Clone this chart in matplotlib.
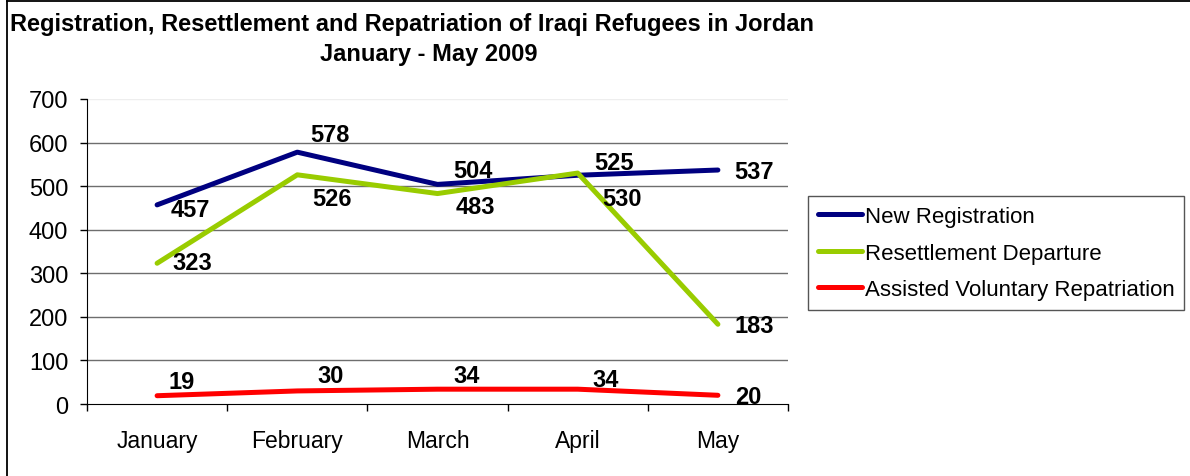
import matplotlib
matplotlib.use("Agg")
import matplotlib.pyplot as plt
from matplotlib.lines import Line2D

plt.rcParams['font.family'] = ['Liberation Sans', 'DejaVu Sans']

# Monthly figures, January - May 2009
months = ['January', 'February', 'March', 'April', 'May']
new_registration = [457, 578, 504, 525, 537]
resettlement_departure = [323, 526, 483, 530, 183]
voluntary_repatriation = [19, 30, 34, 34, 20]

series_names = ['New Registration', 'Resettlement Departure',
                'Assisted Voluntary Repatriation']
series_colors = ['#000080', '#99CC00', '#FF0000']

# label offsets in pixels from each point (dx, dy)
label_offsets = [
    [(33, -5), (33, 18), (35, 14), (36, 13), (36, -1)],
    [(35, 1), (35, -24), (38, -13), (44, -25), (36, -1)],
    [(25, 14), (33, 15), (29, 14), (28, 10), (30, -1)],
]

fig = plt.figure(figsize=(11.9, 4.77), dpi=100)
ax = fig.add_axes([87 / 1190, 1 - 405 / 477, 701 / 1190, 305 / 477])

x = list(range(len(months)))
all_series = [new_registration, resettlement_departure, voluntary_repatriation]
for vals, name, col, offs in zip(all_series, series_names, series_colors, label_offsets):
    ax.plot(x, vals, color=col, lw=3.6, solid_capstyle='round', label=name, zorder=3)
    for xi, v, (dx, dy) in zip(x, vals, offs):
        ax.annotate(str(v), (xi, v), xytext=(dx, dy), textcoords='offset pixels',
                    ha='center', va='center', fontsize=17, fontweight='bold', zorder=4)

ax.set_xlim(-0.5, 4.5)
ax.set_ylim(0, 700)
ax.set_yticks(range(0, 701, 100))
ax.set_xticks(x)
ax.set_xticklabels(months)
ax.set_xticks([i + 0.5 for i in range(-1, 5)], minor=True)

# horizontal gridlines, the top one is very faint
for yv in range(100, 700, 100):
    ax.axhline(yv, color='#6e6e6e', lw=1, zorder=1)
ax.axhline(700, color='#eeeeee', lw=1, zorder=1)

for s in ['top', 'right']:
    ax.spines[s].set_visible(False)
ax.spines['left'].set_color('black')
ax.spines['bottom'].set_color('black')

ax.tick_params(axis='y', length=5, width=1, pad=8.5, labelsize=17)
ax.tick_params(axis='x', which='major', length=0, pad=18, labelsize=16.5)
ax.tick_params(axis='x', which='minor', length=5, width=1, direction='out')

leg = ax.legend(loc='upper left', bbox_to_anchor=(808 / 1190, 1 - 197 / 477),
                bbox_transform=fig.transFigure, borderaxespad=0, fontsize=16,
                fancybox=False, edgecolor='#555555', framealpha=1,
                handlelength=2.0, handletextpad=0.1, labelspacing=0.7,
                borderpad=0.45)
leg.get_frame().set_linewidth(1)

fig.text(10 / 1190, 1 - 24 / 477,
         'Registration, Resettlement and Repatriation of Iraqi Refugees in Jordan',
         ha='left', va='center', fontsize=17, fontweight='bold')
fig.text(429 / 1190, 1 - 54 / 477, 'January - May 2009',
         ha='center', va='center', fontsize=17, fontweight='bold')

# chart frame along the top and left edges
fig.add_artist(Line2D([7 / 1190, 7 / 1190], [0, 1 - 2 / 477], color='black', lw=1.3))
fig.add_artist(Line2D([7 / 1190, 1], [1 - 2 / 477, 1 - 2 / 477], color='black', lw=1.3))

fig.savefig('out.png', dpi=100)
